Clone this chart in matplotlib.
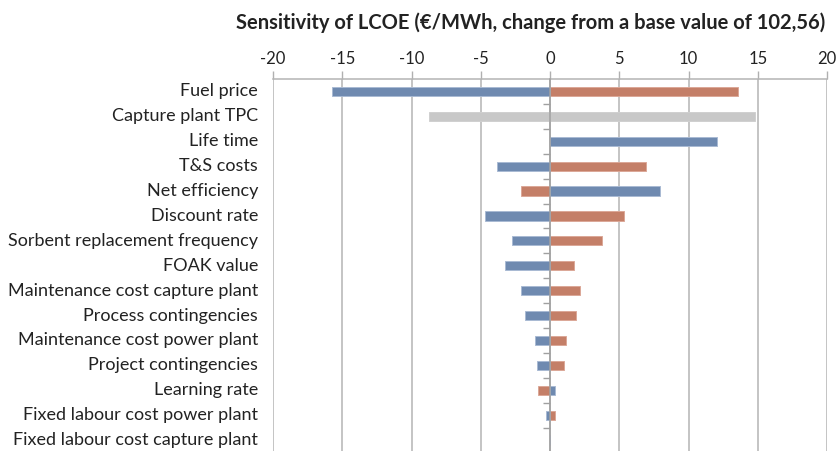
import numpy as np
import matplotlib
matplotlib.use("Agg")
import matplotlib.pyplot as plt

plt.rcParams['font.family'] = ['Lato', 'DejaVu Sans']

# parametros e variacao do LCOE (EUR/MWh) para cada extremo
parametros = ["Fuel price", "Capture plant TPC", "Life time", "T&S costs",
              "Net efficiency", "Discount rate", "Sorbent replacement frequency",
              "FOAK value", "Maintenance cost capture plant", "Process contingencies",
              "Maintenance cost power plant", "Project contingencies", "Learning rate",
              "Fixed labour cost power plant", "Fixed labour cost capture plant"]
serie_azul = [-15.75, -8.71, 12.08, -3.80, 7.94, -4.70, -2.76, -3.24, -2.12,
              -1.83, -1.09, -0.96, 0.35, -0.29, 0.0]
serie_laranja = [13.55, 14.82, 0.0, 6.93, -2.12, 5.31, 3.75, 1.73, 2.15,
                 1.86, 1.14, 1.01, -0.88, 0.35, 0.0]
destaque = 1          # Capture plant TPC aparece em cinza
xticks = [-20, -15, -10, -5, 0, 5, 10, 15, 20]
titulo = "Sensitivity of LCOE (\u20ac/MWh, change from a base value of 102,56)"

AZUL, LARANJA, CINZA = "#6f8ab0", "#c47f68", "#c8c8c8"
cor_a = [CINZA if i == destaque else AZUL for i in range(len(parametros))]
cor_l = [CINZA if i == destaque else LARANJA for i in range(len(parametros))]
borda_a = ["#d0d0d0" if i == destaque else "#a9bad3" for i in range(len(parametros))]
borda_l = ["#d0d0d0" if i == destaque else "#dba898" for i in range(len(parametros))]

fig = plt.figure(figsize=(8.37, 4.51), dpi=100)
ax = fig.add_axes([273/837, -1.5/451, 554/837, 373.5/451])

y = np.arange(len(parametros))
ax.barh(y, serie_laranja, height=0.37, color=cor_l, edgecolor=borda_l, linewidth=0.7, zorder=2)
ax.barh(y, serie_azul, height=0.37, color=cor_a, edgecolor=borda_a, linewidth=0.7, zorder=2)

ax.set_xlim(-20, 20)
ax.set_ylim(len(parametros) - 0.5, -0.5)
ax.set_xticks(xticks)
ax.set_xticklabels([str(v) for v in xticks])
ax.xaxis.set_ticks_position('top')
ax.tick_params(axis='x', direction='out', length=6, width=1, color="#b0b0b0",
               labelsize=12, labelcolor="#222222", pad=3)
ax.grid(axis='x', color="#b4b4b4", linewidth=1.1, zorder=0)
ax.set_axisbelow(True)

for s in ['right', 'bottom']:
    ax.spines[s].set_visible(False)
ax.spines['top'].set_color("#b4b4b4")
ax.spines['top'].set_linewidth(1.1)
ax.spines['left'].set_position(('data', 0))
ax.spines['left'].set_color("#a0a0a0")
ax.spines['left'].set_linewidth(1.1)
ax.spines['left'].set_zorder(3)

# marcas do eixo de categorias nas fronteiras entre barras
ax.set_yticks(np.arange(len(parametros) - 1) + 0.5)
ax.set_yticklabels([])
ax.tick_params(axis='y', direction='out', length=5, width=1, color="#a0a0a0")

for i, nome in enumerate(parametros):
    ax.text(-0.027, i, nome, transform=ax.get_yaxis_transform(), ha='right',
            va='center', fontsize=13, color="#222222")

fig.text(531/837, 1 - 23/451, titulo, ha='center', va='center',
         fontsize=14.5, fontweight='bold', color="#222222")

fig.savefig("out.png", dpi=100)
